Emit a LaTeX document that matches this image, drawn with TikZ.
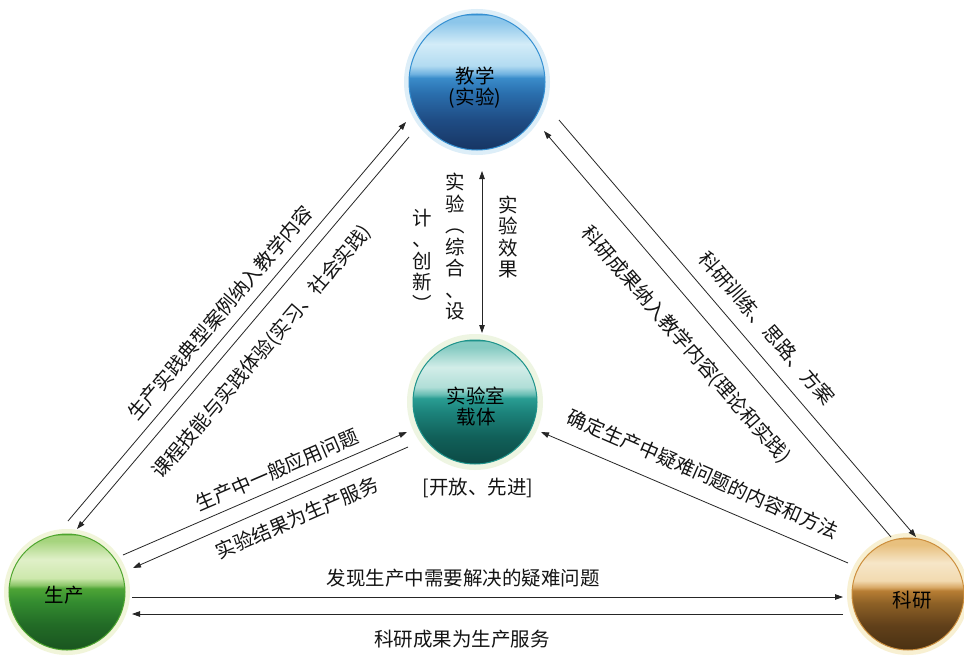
\documentclass[tikz,border=0pt]{standalone}
\usepackage{fontspec}
\newfontfamily\cjk{Noto Sans CJK SC}
\usetikzlibrary{arrows.meta,calc}
% blue
\definecolor{b1}{HTML}{173563}\definecolor{b2}{HTML}{1F4C84}\definecolor{b3}{HTML}{2A6FAE}
\definecolor{b4}{HTML}{3A8CCA}\definecolor{b5}{HTML}{6FB2E0}\definecolor{b6}{HTML}{B2DBF1}
\definecolor{b7}{HTML}{D3ECF8}\definecolor{b8}{HTML}{8CC6EA}\definecolor{b9}{HTML}{3590D2}
\definecolor{bHalo}{HTML}{DDEEF8}
% teal
\definecolor{t1}{HTML}{0C4A45}\definecolor{t2}{HTML}{116059}\definecolor{t3}{HTML}{1C837B}
\definecolor{t4}{HTML}{2A9D93}\definecolor{t5}{HTML}{66BDB3}\definecolor{t6}{HTML}{B0DED7}
\definecolor{t7}{HTML}{D2EDE8}\definecolor{t8}{HTML}{86CBC2}\definecolor{t9}{HTML}{1E938B}
\definecolor{tHalo}{HTML}{EEF5E2}
% green
\definecolor{g1}{HTML}{1A5520}\definecolor{g2}{HTML}{226B26}\definecolor{g3}{HTML}{348D30}
\definecolor{g4}{HTML}{4EA536}\definecolor{g5}{HTML}{8CC66A}\definecolor{g6}{HTML}{CDE8AC}
\definecolor{g7}{HTML}{E0F0C8}\definecolor{g8}{HTML}{A6D47E}\definecolor{g9}{HTML}{4EA52E}
\definecolor{gHalo}{HTML}{F1F5DA}
% brown
\definecolor{r1}{HTML}{4A3112}\definecolor{r2}{HTML}{61401A}\definecolor{r3}{HTML}{8E6126}
\definecolor{r4}{HTML}{B87E34}\definecolor{r5}{HTML}{D8A866}\definecolor{r6}{HTML}{F2DAB0}
\definecolor{r7}{HTML}{F6E6C8}\definecolor{r8}{HTML}{E8C07E}\definecolor{r9}{HTML}{CC8E3C}
\definecolor{rHalo}{HTML}{F8F0D2}
\pgfdeclareverticalshading{blueball}{100bp}{color(0bp)=(b1);color(25bp)=(b1);color(36bp)=(b2);color(46bp)=(b3);color(51.5bp)=(b4);color(53bp)=(b5);color(56bp)=(b6);color(64bp)=(b7);color(72bp)=(b8);color(74.3bp)=(b8);color(75bp)=(b9);color(100bp)=(b9)}
\pgfdeclareverticalshading{tealball}{100bp}{color(0bp)=(t1);color(25bp)=(t1);color(36bp)=(t2);color(46bp)=(t3);color(51.5bp)=(t4);color(53bp)=(t5);color(56bp)=(t6);color(64bp)=(t7);color(72bp)=(t8);color(74.3bp)=(t8);color(75bp)=(t9);color(100bp)=(t9)}
\pgfdeclareverticalshading{greenball}{100bp}{color(0bp)=(g1);color(25bp)=(g1);color(36bp)=(g2);color(46bp)=(g3);color(51.5bp)=(g4);color(53bp)=(g5);color(56bp)=(g6);color(64bp)=(g7);color(72bp)=(g8);color(74.3bp)=(g8);color(75bp)=(g9);color(100bp)=(g9)}
\pgfdeclareverticalshading{brownball}{100bp}{color(0bp)=(r1);color(25bp)=(r1);color(36bp)=(r2);color(46bp)=(r3);color(51.5bp)=(r4);color(53bp)=(r5);color(56bp)=(r6);color(64bp)=(r7);color(72bp)=(r8);color(74.3bp)=(r8);color(75bp)=(r9);color(100bp)=(r9)}
\tikzset{
  ball/.style={circle, inner sep=0pt, shade, line width=1pt},
  ctext/.style={font=\cjk\fontsize{19.5}{21}\selectfont, align=center, inner sep=0pt, text=black},
  lbl/.style={font=\cjk\fontsize{19.5}{23}\selectfont, inner sep=0pt, text=black!92},
  vlbl/.style={font=\cjk\fontsize{19.5}{21.5}\selectfont, align=center, inner sep=0pt, text=black!92},
  conn/.style={draw=black!85, line width=0.8pt, -{Triangle[length=8pt,width=5.5pt]}},
  dconn/.style={draw=black!85, line width=0.8pt, {Triangle[length=8pt,width=5.5pt]}-{Triangle[length=8pt,width=5.5pt]}}
}
\begin{document}
\begin{tikzpicture}[x=1pt,y=-1pt]
\fill[white] (0,0) rectangle (964,661);
\useasboundingbox (0,0) rectangle (964,661);

% halos
\fill[bHalo] (477,82) circle[radius=73pt];
\fill[tHalo] (475,402) circle[radius=68pt];
\fill[gHalo] (67,592) circle[radius=63pt];
\fill[rHalo] (908,594) circle[radius=61pt];

% balls
\node[ball, minimum size=136pt, shading=blueball, draw=b9] (teach) at (477,82) {};
\node[ball, minimum size=124pt, shading=tealball, draw=t9] (lab) at (475,402) {};
\node[ball, minimum size=116pt, shading=greenball, draw=g9] (prod) at (67,592) {};
\node[ball, minimum size=112pt, shading=brownball, draw=r9] (sci) at (908,594) {};

% ball texts
\node[ctext] (teachT) at (475,88) {教学\\(实验)};
\node[ctext] (labT) at (476,407) {实验室\\载体};
\node[ctext] (prodT) at (64,595) {生产};
\node[ctext] (sciT) at (912,600) {科研};
\node[lbl] (open) at (478,488) {[开放、先进]};

% connectors
\draw[conn] ($(prod)+(1,-71)$) -- ($(teach)+(-71,40)$);
\draw[conn] ($(teach)+(-68,55)$) -- ($(prod)+(10,-63)$);
\draw[dconn] ($(teach)+(5,89)$) -- ($(lab)+(7,-69)$);
\draw[conn] ($(sci)+(-17,-57)$) -- ($(teach)+(67,49)$);
\draw[conn] ($(teach)+(82,38)$) -- ($(sci)+(8,-57)$);
\draw[conn] ($(sci)+(-60,-31)$) -- ($(lab)+(66,30)$);
\draw[conn] ($(prod)+(56,-37)$) -- ($(lab)+(-68,30)$);
\draw[conn] ($(lab)+(-67,45)$) -- ($(prod)+(66,-24)$);
\draw[conn] ($(prod)+(65,5)$) -- ($(sci)+(-65,3)$);
\draw[conn] ($(sci)+(-65,20)$) -- ($(prod)+(65,22)$);

% labels
\node[lbl, rotate=49.6] (l1) at (220,313) {生产实践典型案例纳入教学内容};
\node[lbl, rotate=49.6] (l2) at (262,352) {课程技能与实践体验(实习、社会实践)};
\node[lbl, rotate=23.4] (l3) at (277,470) {生产中一般应用问题};
\node[lbl, rotate=23.4] (l4) at (297,518) {实验结果为生产服务};
\node[lbl] (l5) at (463,578) {发现生产中需要解决的疑难问题};
\node[lbl] (l6) at (462,639) {科研成果为生产服务};
\node[lbl, rotate=-23.5] (l7) at (703,474) {确定生产中疑难问题的内容和方法};
\node[lbl, rotate=-49] (l8) at (686,345) {科研成果纳入教学内容(理论和实践)};
\node[lbl, rotate=-49] (l9) at (767,328) {科研训练、思路、方案};
\node[vlbl] (v1) at (508,237) {实\\验\\效\\果};
\node[vlbl] (v2) at (455,247) {实\\验\\︵\\综\\合\\、\\设};
\node[vlbl] (v3) at (422,260) {计\\、\\创\\新\\︶};
\end{tikzpicture}
\end{document}
